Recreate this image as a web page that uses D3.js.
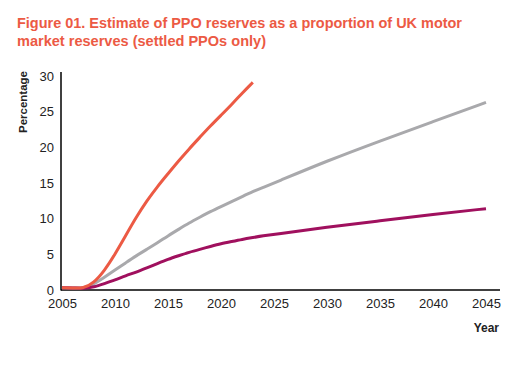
<!DOCTYPE html>
<html>
<head>
<meta charset="utf-8">
<script src="https://cdn.jsdelivr.net/npm/d3@7"></script>
<style>
  body { margin: 0; background: #fff; }
  text { font-family: "Liberation Sans", Arial, sans-serif; }
</style>
</head>
<body>
<svg id="canvas" width="515" height="365"></svg>
<script>
let years = [2005, 2006, 2007, 2008, 2009, 2010, 2011, 2012, 2013, 2014, 2015, 2016, 2017, 2018, 2019,
             2020, 2021, 2022, 2023, 2024, 2025, 2030, 2035, 2040, 2045]
let redValues = [0.3, 0.3, 0.2, 1.0, 2.7, 5.0, 7.6, 10.2, 12.5, 14.5, 16.3, 18.1, 19.8, 21.4, 23.0,
                 24.5, 26.0, 27.6, 29.1, null, null, null, null, null, null]
let greyValues = [0.3, 0.3, 0.2, 0.8, 1.8, 2.8, 3.8, 4.8, 5.7, 6.6, 7.6, 8.5, 9.4, 10.2, 11.0,
                  11.7, 12.4, 13.1, 13.8, 14.4, 15.0, 18.1, 20.9, 23.6, 26.3]
let purpleValues = [0.3, 0.3, 0.2, 0.4, 0.9, 1.4, 2.0, 2.5, 3.1, 3.7, 4.3, 4.8, 5.3, 5.7, 6.1,
                    6.5, 6.8, 7.1, 7.35, 7.6, 7.8, 8.8, 9.7, 10.6, 11.4]
let xTicks = [2005, 2010, 2015, 2020, 2025, 2030, 2035, 2040, 2045]
let yTicks = [0, 5, 10, 15, 20, 25, 30]

let canvas = d3.select('#canvas')

let xScale = d3.scaleLinear().domain([2005, 2045]).range([62, 486])
let yScale = d3.scaleLinear().domain([0, 30]).range([290, 76])

// title
let titleLines = ['Figure 01. Estimate of PPO reserves as a proportion of UK motor',
                  'market reserves (settled PPOs only)']
let titleWidths = [445, 249]
titleLines.forEach((line, i) => {
  canvas.append('text')
    .attr('x', 17)
    .attr('y', 28 + i * 18)
    .attr('fill', '#ec5a44')
    .attr('font-size', 15)
    .attr('font-weight', 'bold')
    .attr('textLength', titleWidths[i])
    .attr('lengthAdjust', 'spacingAndGlyphs')
    .text(line)
})

// axes
let xAxis = d3.axisBottom(xScale).tickValues(xTicks).tickFormat(d3.format('d')).tickSize(0).tickPadding(9)
let yAxis = d3.axisLeft(yScale).tickValues(yTicks).tickSize(0).tickPadding(7)

let gx = canvas.append('g').attr('transform', 'translate(0,290)').call(xAxis)
gx.select('.domain').remove()
gx.append('line').attr('x1', 61).attr('x2', 500).attr('stroke', '#000').attr('stroke-width', 1.5)

let gy = canvas.append('g').attr('transform', 'translate(61,0)').call(yAxis)
gy.select('.domain').remove()
gy.append('line').attr('y1', 72).attr('y2', 290.5).attr('stroke', '#000').attr('stroke-width', 1.5)

canvas.selectAll('.tick text')
  .attr('font-family', '"Liberation Sans", Arial, sans-serif')
  .attr('font-size', 13)
  .attr('fill', '#222')

// axis titles
canvas.append('text')
  .attr('transform', 'translate(26.5,71) rotate(-90)')
  .attr('text-anchor', 'end')
  .attr('font-size', 11.5)
  .attr('font-weight', 'bold')
  .attr('fill', '#222')
  .text('Percentage')

canvas.append('text')
  .attr('x', 499)
  .attr('y', 332)
  .attr('text-anchor', 'end')
  .attr('font-size', 12)
  .attr('font-weight', 'bold')
  .attr('fill', '#222')
  .text('Year')

// lines
let series = [
  { values: greyValues, color: '#a9a9ac' },
  { values: purpleValues, color: '#a0105e' },
  { values: redValues, color: '#ec5a44' }
]

let line = d3.line()
  .defined((d) => d[1] !== null)
  .x((d) => xScale(d[0]))
  .y((d) => yScale(d[1]))
  .curve(d3.curveBasis)

series.forEach((s) => {
  canvas.append('path')
    .datum(years.map((yr, i) => [yr, s.values[i]]))
    .attr('fill', 'none')
    .attr('stroke', s.color)
    .attr('stroke-width', 3)
    .attr('d', line)
})
</script>
</body>
</html>
